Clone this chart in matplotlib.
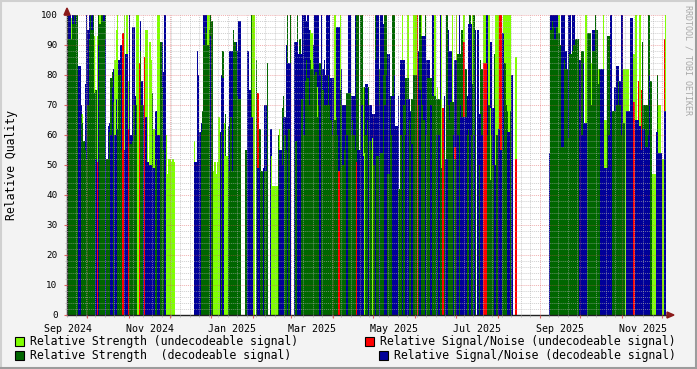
import datetime as dt
import numpy as np
import matplotlib
matplotlib.use("Agg")
import matplotlib.pyplot as plt
import matplotlib.dates as mdates
from matplotlib.lines import Line2D
from matplotlib.patches import Rectangle, Polygon

# one sample per day, starting at the left edge of the graph
start = dt.date(2024, 9, 16)

# relative strength, decodeable signal (0 = no sample)
strength_dec = [
    100, 92, 92, 92, 97, 100, 97, 100, 0, 0,
    67, 64, 58, 55, 52, 70, 92, 100, 95, 100,
    74, 75, 0, 100, 97, 100, 100, 98, 100, 52,
    52, 61, 79, 81, 71, 0, 0, 62, 80, 80,
    55, 0, 0, 0, 0, 0, 57, 57, 58, 70,
    60, 70, 0, 0, 88, 70, 0, 0, 0, 0,
    0, 0, 0, 74, 0, 50, 52, 0, 0, 91,
    76, 55, 0, 0, 0, 0, 0, 0, 0, 0,
    0, 0, 0, 0, 0, 0, 0, 0, 0, 0,
    0, 0, 0, 0, 0, 0, 0, 0, 0, 61,
    68, 90, 96, 94, 90, 95, 100, 98, 0, 0,
    0, 0, 0, 0, 61, 88, 0, 67, 0, 63,
    48, 66, 48, 95, 91, 88, 73, 72, 72, 0,
    0, 0, 55, 0, 0, 0, 100, 0, 0, 0,
    85, 0, 62, 62, 48, 0, 48, 48, 84, 0,
    0, 0, 0, 0, 0, 0, 60, 0, 0, 69,
    73, 60, 55, 100, 62, 100, 0, 0, 0, 58,
    100, 0, 92, 72, 72, 60, 78, 85, 79, 70,
    85, 82, 84, 80, 81, 66, 70, 84, 80, 75,
    70, 70, 70, 80, 70, 65, 60, 65, 65, 66,
    60, 0, 75, 70, 50, 55, 60, 74, 74, 74,
    60, 65, 60, 55, 100, 100, 0, 100, 100, 0,
    76, 60, 65, 76, 58, 55, 0, 50, 100, 53,
    53, 82, 54, 54, 80, 100, 100, 47, 47, 73,
    60, 100, 100, 0, 0, 42, 42, 60, 0, 70,
    79, 79, 79, 65, 57, 72, 80, 80, 80, 0,
    70, 100, 93, 70, 65, 100, 60, 79, 79, 79,
    73, 73, 73, 72, 72, 72, 72, 49, 0, 55,
    0, 100, 70, 65, 71, 71, 71, 52, 0, 87,
    87, 87, 95, 0, 0, 82, 60, 62, 100, 60,
    77, 100, 60, 0, 0, 50, 85, 82, 0, 0,
    0, 60, 70, 45, 60, 50, 87, 0, 60, 0,
    0, 0, 60, 55, 84, 70, 68, 0, 68, 0,
    0, 0, 0, 0, 0, 0, 0, 0, 0, 0,
    0, 0, 0, 0, 0, 0, 0, 0, 0, 0,
    0, 0, 0, 0, 0, 0, 0, 0, 95, 98,
    96, 92, 96, 96, 94, 90, 56, 56, 85, 82,
    82, 59, 87, 87, 88, 90, 92, 92, 92, 0,
    0, 88, 88, 0, 0, 94, 94, 94, 70, 88,
    88, 100, 95, 77, 82, 0, 0, 0, 0, 0,
    93, 93, 0, 0, 68, 68, 68, 70, 78, 70,
    60, 64, 64, 0, 0, 0, 0, 0, 0, 0,
    0, 0, 0, 0, 0, 0, 91, 70, 70, 70,
    100, 100, 78, 0, 0, 0, 0, 80, 0, 0,
    0, 0, 0, 0,
]

# relative signal/noise, decodeable signal
snr_dec = [
    0, 100, 100, 0, 100, 0, 100, 0, 83, 83,
    70, 0, 0, 77, 100, 95, 100, 0, 100, 0,
    0, 52, 0, 90, 0, 0, 0, 100, 92, 0,
    63, 64, 60, 76, 82, 60, 72, 0, 85, 90,
    90, 0, 55, 87, 87, 0, 100, 60, 96, 96,
    73, 0, 0, 0, 98, 78, 70, 0, 66, 51,
    51, 50, 50, 49, 49, 68, 68, 60, 60, 0,
    91, 81, 100, 0, 0, 0, 0, 0, 0, 0,
    0, 0, 0, 0, 0, 0, 0, 0, 0, 0,
    0, 0, 0, 0, 51, 51, 88, 80, 61, 64,
    0, 100, 100, 100, 0, 0, 93, 0, 0, 0,
    0, 0, 0, 61, 80, 79, 0, 0, 0, 0,
    88, 88, 88, 0, 0, 91, 88, 98, 98, 0,
    0, 0, 0, 88, 88, 75, 66, 66, 0, 0,
    0, 49, 49, 0, 0, 49, 70, 70, 0, 0,
    62, 62, 0, 0, 0, 0, 0, 55, 55, 50,
    66, 66, 90, 84, 84, 84, 0, 0, 91, 91,
    91, 87, 87, 87, 100, 100, 100, 98, 100, 95,
    0, 0, 90, 100, 100, 100, 100, 80, 100, 82,
    85, 80, 100, 100, 100, 79, 79, 79, 0, 96,
    96, 96, 0, 82, 70, 70, 70, 60, 100, 100,
    73, 73, 73, 100, 0, 55, 55, 55, 70, 53,
    0, 77, 77, 70, 70, 70, 67, 67, 85, 100,
    100, 70, 100, 100, 97, 70, 80, 87, 87, 0,
    73, 73, 80, 63, 63, 73, 0, 85, 85, 85,
    60, 72, 72, 72, 68, 57, 0, 0, 0, 0,
    88, 75, 0, 93, 93, 93, 85, 85, 85, 70,
    100, 100, 0, 60, 0, 60, 100, 0, 0, 73,
    52, 52, 95, 88, 88, 0, 60, 85, 85, 60,
    100, 70, 66, 66, 66, 66, 73, 97, 97, 97,
    0, 60, 95, 0, 95, 67, 67, 60, 0, 0,
    100, 100, 0, 91, 91, 69, 69, 50, 0, 62,
    62, 55, 94, 94, 0, 0, 61, 61, 0, 80,
    0, 0, 0, 0, 0, 0, 0, 0, 0, 0,
    0, 0, 0, 0, 0, 0, 0, 0, 0, 0,
    0, 0, 0, 0, 0, 0, 0, 54, 100, 100,
    100, 100, 100, 100, 0, 0, 100, 100, 100, 88,
    0, 100, 100, 0, 100, 100, 0, 0, 0, 85,
    85, 60, 84, 64, 64, 0, 0, 0, 0, 95,
    95, 0, 0, 0, 0, 82, 82, 82, 49, 49,
    49, 60, 100, 100, 0, 76, 76, 83, 83, 78,
    100, 100, 0, 0, 68, 68, 68, 99, 99, 0,
    0, 65, 65, 65, 63, 55, 62, 62, 56, 56,
    60, 80, 0, 0, 0, 0, 61, 61, 54, 54,
    54, 0, 68, 68,
]

# undecodeable samples are sparse: {day offset: value}
strength_undec = {
    3: 99, 11: 67, 20: 93, 22: 93, 24: 100, 35: 85, 36: 95, 37: 100,
    42: 100, 44: 100, 45: 78, 51: 100, 52: 100, 58: 95, 59: 95, 61: 91,
    62: 85, 64: 62, 67: 100, 68: 100, 73: 60, 74: 47, 75: 52, 76: 52,
    77: 51, 78: 52, 79: 51, 94: 58, 104: 100, 105: 100, 108: 48, 109: 51,
    110: 47, 111: 51, 112: 66, 116: 64, 117: 53, 118: 53, 137: 100,
    138: 100, 151: 53, 152: 43, 153: 43, 154: 43, 155: 43, 157: 62,
    180: 95, 181: 94, 185: 76, 198: 100, 202: 100, 219: 76, 220: 54,
    226: 59, 248: 100, 252: 100, 256: 100, 257: 100, 258: 100, 262: 100,
    272: 100, 274: 76, 277: 100, 285: 100, 288: 100, 293: 100, 294: 100,
    300: 100, 308: 100, 309: 100, 312: 100, 313: 69, 317: 100, 318: 100,
    319: 100, 323: 100, 324: 100, 325: 100, 326: 100, 327: 100, 328: 100,
    332: 86, 364: 100, 384: 100, 388: 84, 393: 82, 397: 100, 398: 65,
    399: 65, 412: 82, 413: 82, 414: 82, 415: 82, 419: 87, 420: 87,
    421: 100, 424: 100, 433: 47, 434: 47, 435: 47, 438: 70, 439: 70,
    441: 52, 443: 100,
}
snr_undec = {
    22: 51, 41: 94, 45: 62, 53: 84, 57: 86, 141: 74, 201: 48, 214: 51,
    259: 100, 278: 69, 287: 56, 293: 91, 294: 91, 308: 84, 309: 84,
    310: 84, 320: 100, 321: 100, 332: 52, 419: 71, 420: 71, 423: 78,
    425: 75, 442: 92,
}

x_labels = ["Sep 2024", "Nov 2024", "Jan 2025", "Mar 2025",
            "May 2025", "Jul 2025", "Sep 2025", "Nov 2025"]

legend_labels = [
    "Relative Strength (undecodeable signal)",
    "Relative Signal/Noise (undecodeable signal)",
    "Relative Strength  (decodeable signal)",
    "Relative Signal/Noise (decodeable signal)",
]

c_lime = "#80ff00"
c_red = "#ff0000"
c_green = "#006600"
c_blue = "#000099"

plt.rcParams["font.family"] = "DejaVu Sans Mono"

W, H = 697, 369
fig = plt.figure(figsize=(W / 100, H / 100), dpi=100, facecolor="#f3f3f3")
ax = fig.add_axes([67 / W, (H - 315) / H, 599.4 / W, 300 / H])
ax.set_facecolor("white")

n = len(strength_dec)
x0 = mdates.date2num(start)
xs = x0 + np.arange(n)

lg = np.zeros(n)
for d, v in strength_undec.items():
    lg[d] = v
rd = np.zeros(n)
for d, v in snr_undec.items():
    rd[d] = v

vals = np.column_stack([strength_dec, snr_dec, lg, rd]).astype(float)
cols = np.array([c_green, c_blue, c_lime, c_red])

# tallest first, so every series stays visible in its column
order = np.argsort(-vals, axis=1, kind="stable")
for k in range(4):
    idx = order[:, k]
    h = vals[np.arange(n), idx]
    m = h > 0
    ax.bar(xs[m], h[m], width=1.0, align="edge", color=cols[idx[m]],
           linewidth=0, antialiased=False, zorder=1)

ax.set_xlim(x0, x0 + n)
ax.set_ylim(0, 100)

# grid on top of the areas, rrdtool style
ax.set_axisbelow(False)
ax.xaxis.set_major_locator(mdates.MonthLocator())
ax.xaxis.set_minor_locator(mdates.WeekdayLocator(byweekday=mdates.MO))
ax.set_yticks(range(0, 101, 10))
ax.set_yticks(range(0, 101, 2), minor=True)
ax.grid(which="minor", color="#b0b0b0", alpha=0.6, linestyle=(0, (1, 1)), linewidth=0.7)
ax.grid(which="major", color="#e05050", alpha=0.45, linestyle=(0, (1, 1)), linewidth=0.7)

ax.tick_params(axis="x", which="both", labelbottom=False)
ax.tick_params(which="major", length=2.5, width=0.8, color="#e06060", direction="out")
ax.tick_params(which="minor", length=1.5, width=0.6, color="#b0b0b0", direction="out")
ax.tick_params(axis="y", which="major", labelsize=6.7, pad=4.3, labelcolor="black")

for lbl in x_labels:
    mid = mdates.date2num(dt.datetime.strptime(lbl, "%b %Y") + dt.timedelta(days=15.5))
    ax.text(mid, -0.03, lbl, transform=ax.get_xaxis_transform(), ha="center",
            va="top", fontsize=7.2, clip_on=False)

for s in ["top", "right"]:
    ax.spines[s].set_visible(False)
for s in ["left", "bottom"]:
    ax.spines[s].set_color("#202020")
    ax.spines[s].set_linewidth(1.0)


def px(x, y):
    return (x / W, 1 - y / H)


# axis arrows
fig.add_artist(Polygon([px(64, 15), px(70, 15), px(67, 8)], closed=True,
                       transform=fig.transFigure, color="#8b1a1a"))
fig.add_artist(Polygon([px(667, 312), px(667, 318), px(674, 315)], closed=True,
                       transform=fig.transFigure, color="#8b1a1a"))

fig.text(*px(12, 165), "Relative Quality", rotation=90, ha="center",
         va="center", fontsize=8.3)
fig.text(*px(688, 5), "RRDTOOL / TOBI OETIKER", rotation=270, ha="center",
         va="top", fontsize=6, color="#a8a8a8")

# legend, two rows like rrdtool
leg = [(15, 341.5, 30, c_lime, legend_labels[0]),
       (365, 341.5, 380, c_red, legend_labels[1]),
       (15, 355, 30, c_green, legend_labels[2]),
       (379, 355, 394, c_blue, legend_labels[3])]
for bx, by, tx, c, t in leg:
    fig.add_artist(Rectangle(px(bx, by + 4.5), 9 / W, 9 / H,
                             transform=fig.transFigure, facecolor=c,
                             edgecolor="black", linewidth=0.8))
    fig.text(*px(tx, by), t, ha="left", va="center", fontsize=8.3)

# frame around the canvas
fig.add_artist(Line2D([0, 1], [1 - 1 / H, 1 - 1 / H], transform=fig.transFigure, color="#d0d0d0", lw=1.5))
fig.add_artist(Line2D([1 / W, 1 / W], [0, 1], transform=fig.transFigure, color="#d0d0d0", lw=1.5))
fig.add_artist(Line2D([0, 1], [1 / H, 1 / H], transform=fig.transFigure, color="#9c9c9c", lw=1.5))
fig.add_artist(Line2D([1 - 1 / W, 1 - 1 / W], [0, 1], transform=fig.transFigure, color="#9c9c9c", lw=1.5))

fig.savefig("out.png", dpi=100, facecolor=fig.get_facecolor())
